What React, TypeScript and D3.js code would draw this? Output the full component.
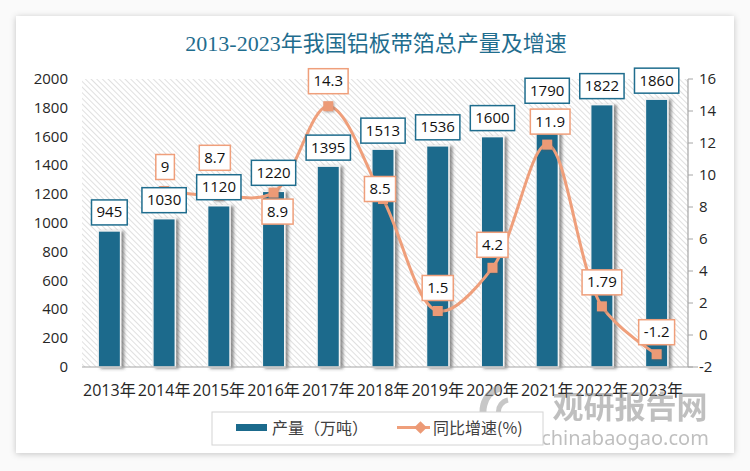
import { useMemo } from 'react'
import * as d3 from 'd3'

const years = ['2013年', '2014年', '2015年', '2016年', '2017年', '2018年', '2019年', '2020年', '2021年', '2022年', '2023年']
const output = [945, 1030, 1120, 1220, 1395, 1513, 1536, 1600, 1790, 1822, 1860]
const growth: (number | null)[] = [null, 9, 8.7, 8.9, 14.3, 8.5, 1.5, 4.2, 11.9, 1.79, -1.2]
const leftTicks = [0, 200, 400, 600, 800, 1000, 1200, 1400, 1600, 1800, 2000]
const rightTicks = [-2, 0, 2, 4, 6, 8, 10, 12, 14, 16]

// manual label placement for the growth labels (dx, dy of box centre from the marker)
const growthNudge: [number, number][] = [
  [0, 0], [1, -24], [-4, -38], [4, 19], [0, -25], [-3, -10], [0, -23], [0, -23], [3, -23], [0, -24], [0, -22],
]

const W = 750
const H = 471
const plot = { left: 82, right: 688, top: 79, bottom: 367 }
const BAR = '#1b6a8c'
const LINE = '#ef9f7b'
const NUM_FONT = '"Open Sans", "Noto Sans CJK SC", sans-serif'
const CJK_FONT = '"Noto Sans CJK SC", sans-serif'

let ctx: CanvasRenderingContext2D | null = null
function measure(s: string, font: string) {
  if (!ctx) ctx = document.createElement('canvas').getContext('2d')
  if (!ctx) return s.length * 8
  ctx.font = font
  return ctx.measureText(s).width
}

function LabelBox({ cx, cy, text, stroke }: { cx: number; cy: number; text: string; stroke: string }) {
  const w = measure(text, `15px "Open Sans"`) + 10
  const h = 25
  return (
    <g>
      <rect x={cx - w / 2} y={cy - h / 2} width={w} height={h} fill="white" stroke={stroke} strokeWidth={1.5} />
      <text x={cx} y={cy + 5} textAnchor="middle" fontSize={15} fontFamily={NUM_FONT} fill="#111">
        {text}
      </text>
    </g>
  )
}

export default function App() {
  const x = useMemo(
    () => d3.scaleBand<string>().domain(years).range([plot.left, 684]).paddingInner(0.59).paddingOuter(0.295),
    []
  )
  const yL = useMemo(() => d3.scaleLinear().domain([0, 2000]).range([plot.bottom, plot.top]), [])
  const yR = useMemo(() => d3.scaleLinear().domain([-2, 16]).range([plot.bottom, plot.top]), [])

  const pts = growth
    .map((g, i) => (g == null ? null : { i, g, px: x(years[i])! + x.bandwidth() / 2, py: yR(g) }))
    .filter((d): d is { i: number; g: number; px: number; py: number } => d !== null)

  const path = d3
    .line<{ px: number; py: number }>()
    .x((d) => d.px)
    .y((d) => d.py)
    .curve(d3.curveCatmullRom.alpha(0.5))(pts)

  return (
    <svg width={W} height={H} style={{ position: 'absolute', left: 0, top: 0 }} viewBox={`0 0 ${W} ${H}`}>
      <defs>
        <filter id="card-shadow" x="-5%" y="-5%" width="110%" height="110%">
          <feDropShadow dx="0" dy="1" stdDeviation="3" floodColor="#000" floodOpacity="0.22" />
        </filter>
        <filter id="bar-shadow" x="-50%" y="-10%" width="200%" height="120%">
          <feDropShadow dx="3" dy="1" stdDeviation="1.6" floodColor="#555" floodOpacity="0.65" />
        </filter>
        <filter id="mk-shadow" x="-50%" y="-50%" width="200%" height="200%">
          <feDropShadow dx="1" dy="1" stdDeviation="1" floodColor="#555" floodOpacity="0.5" />
        </filter>
        <pattern id="hatch" width="4" height="4" patternUnits="userSpaceOnUse" patternTransform="rotate(-45)">
          <rect width="4" height="4" fill="#ffffff" />
          <line x1="0" y1="0" x2="0" y2="4" stroke="#d0d0d0" strokeWidth="1.3" />
        </pattern>
      </defs>

      <rect x={0} y={0} width={W} height={H} fill="#fafafa" />
      <rect x={16} y={16} width={718} height={437} fill="white" filter="url(#card-shadow)" />

      <text x={376} y={51} textAnchor="middle" fontSize={22} fill="#1f6d8e" fontFamily={'"Liberation Serif", "Noto Sans CJK SC", serif'}>
        2013-2023年我国铝板带箔总产量及增速
      </text>

      {/* plot background */}
      <rect x={plot.left} y={plot.top} width={plot.right - plot.left} height={plot.bottom - plot.top} fill="url(#hatch)" />

      {/* bars */}
      {output.map((v, i) => (
        <rect
          key={years[i]}
          x={x(years[i])}
          y={yL(v)}
          width={x.bandwidth()}
          height={plot.bottom - yL(v)}
          fill={BAR}
          stroke="#f4f4f4"
          strokeWidth={1.5}
          filter="url(#bar-shadow)"
        />
      ))}

      {/* axes */}
      <line x1={plot.left} x2={plot.right + 10} y1={plot.bottom} y2={plot.bottom} stroke="#a6a6a6" strokeWidth={1.2} />
      <line x1={plot.right} x2={plot.right} y1={plot.top} y2={plot.bottom} stroke="#a6a6a6" strokeWidth={1.2} />
      {rightTicks.map((t) => (
        <g key={t}>
          <line x1={plot.right} x2={plot.right + 5} y1={yR(t)} y2={yR(t)} stroke="#a6a6a6" />
          <text x={plot.right + 11} y={yR(t) + 5} fontSize={15} fontFamily={NUM_FONT} fill="#262626">
            {t}
          </text>
        </g>
      ))}
      {leftTicks.map((t) => (
        <text key={t} x={68} y={yL(t) + 5} textAnchor="end" fontSize={15} fontFamily={NUM_FONT} fill="#262626">
          {t}
        </text>
      ))}
      {years.map((yr) => (
        <text
          key={yr}
          x={x(yr)! + x.bandwidth() / 2}
          y={396}
          textAnchor="middle"
          fontSize={16}
          fontFamily={NUM_FONT}
          fill="#262626"
        >
          {yr}
        </text>
      ))}

      {/* growth line */}
      <path d={path ?? ''} fill="none" stroke={LINE} strokeWidth={3} />
      {pts.map((p) => (
        <rect key={p.i} x={p.px - 5} y={p.py - 5} width={10} height={10} fill="#ec9a76" filter="url(#mk-shadow)" />
      ))}

      {/* bar labels */}
      {output.map((v, i) => (
        <LabelBox key={years[i]} cx={x(years[i])! + x.bandwidth() / 2} cy={yL(v) - 6 - 12.5} text={String(v)} stroke="#1f6d8e" />
      ))}

      {/* growth labels */}
      {pts.map((p) => (
        <LabelBox
          key={p.i}
          cx={p.px + growthNudge[p.i][0]}
          cy={p.py + growthNudge[p.i][1]}
          text={String(p.g)}
          stroke={LINE}
        />
      ))}

      {/* watermark */}
      <g opacity={0.55} fill="#8c8c8c">
        <path d="M 500 388 A 24 24 0 1 0 530 418" fill="none" stroke="#9a9a9a" strokeWidth={7} />
        <path d="M 508 400 A 12 12 0 1 0 522 415" fill="none" stroke="#9a9a9a" strokeWidth={5} />
        <text x={630} y={418} textAnchor="middle" fontSize={31} fontWeight={700} fontFamily={CJK_FONT}>
          观研报告网
        </text>
        <text x={625} y={445} textAnchor="middle" fontSize={20} fontFamily={'"Noto Sans", sans-serif'}>
          chinabaogao.com
        </text>
      </g>

      {/* legend */}
      <rect x={212} y={412} width={331} height={33} fill="white" stroke="#d4d4d4" strokeWidth={1} />
      <rect x={236} y={424} width={31} height={7} fill={BAR} />
      <text x={272} y={434} fontSize={16} fontFamily={CJK_FONT} fill="#404040">
        产量（万吨）
      </text>
      <line x1={397} x2={430} y1={427.5} y2={427.5} stroke={LINE} strokeWidth={3} />
      <rect x={416} y={423} width={9} height={9} fill="#ec9a76" transform="rotate(45 420.5 427.5)" />
      <text x={433} y={434} fontSize={16} fontFamily={CJK_FONT} fill="#404040">
        同比增速(%)
      </text>
    </svg>
  )
}
